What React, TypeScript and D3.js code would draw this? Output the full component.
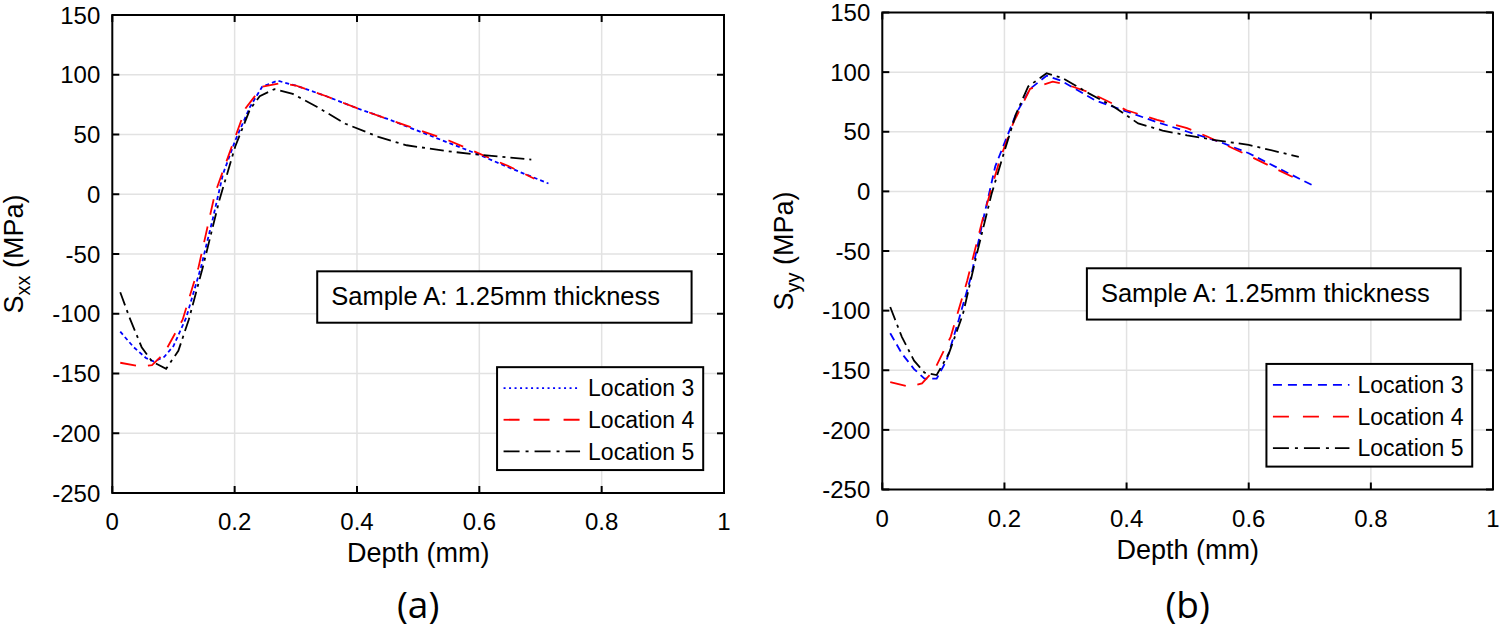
import { useEffect, useRef } from 'react'
import * as d3 from 'd3'

// Residual stress vs depth, Sample A (1.25 mm), three measurement locations.
// Values read off the published figure.

const xTicks = [0, 0.2, 0.4, 0.6, 0.8, 1]
const yTicks = [-250, -200, -150, -100, -50, 0, 50, 100, 150]
const legendLabels = ['Location 3', 'Location 4', 'Location 5']

// (a) S_xx
const depthA3 = [0.013, 0.035, 0.055, 0.068, 0.085, 0.1, 0.121, 0.145, 0.165, 0.181, 0.201, 0.225, 0.245, 0.27, 0.3, 0.35, 0.4, 0.45, 0.5, 0.55, 0.6, 0.65, 0.713]
const sxx3 = [-115, -128, -137, -140, -136, -127, -103, -61, -19, 17, 45, 73, 90, 95, 91, 82, 72, 63, 53, 43, 33, 22, 9]
const depthA4 = [0.013, 0.045, 0.065, 0.085, 0.115, 0.141, 0.168, 0.201, 0.218, 0.245, 0.275, 0.3, 0.35, 0.4, 0.45, 0.5, 0.55, 0.6, 0.65, 0.69]
const sxx4 = [-141, -144, -143, -133, -105, -61, 1, 48, 72, 90, 93, 91, 82, 72, 63, 54, 45, 34, 23, 13]
const depthA5 = [0.013, 0.028, 0.048, 0.065, 0.088, 0.108, 0.125, 0.148, 0.175, 0.201, 0.225, 0.241, 0.265, 0.295, 0.335, 0.381, 0.435, 0.481, 0.548, 0.601, 0.685]
const sxx5 = [-82, -103, -128, -140, -146, -131, -105, -61, -5, 40, 71, 82, 88, 84, 73, 59, 48, 41, 36, 33, 29]

// (b) S_yy
const depthB3 = [0.013, 0.032, 0.052, 0.069, 0.089, 0.105, 0.125, 0.145, 0.165, 0.185, 0.202, 0.219, 0.242, 0.269, 0.292, 0.35, 0.4, 0.45, 0.5, 0.55, 0.6, 0.65, 0.709]
const syy3 = [-119, -136, -149, -157, -157, -142, -108, -72, -24, 21, 43, 65, 86, 97, 93, 76, 67, 58, 50, 42, 32, 19, 4]
const depthB4 = [0.013, 0.045, 0.065, 0.085, 0.112, 0.139, 0.165, 0.192, 0.215, 0.242, 0.279, 0.299, 0.339, 0.4, 0.45, 0.499, 0.532, 0.6, 0.672]
const syy4 = [-160, -164, -161, -150, -122, -75, -22, 26, 58, 86, 92, 90, 83, 68, 60, 53, 46, 30, 12]
const depthB5 = [0.013, 0.032, 0.052, 0.069, 0.089, 0.109, 0.132, 0.155, 0.179, 0.199, 0.219, 0.239, 0.269, 0.295, 0.339, 0.379, 0.419, 0.459, 0.499, 0.545, 0.6, 0.682]
const syy5 = [-97, -122, -142, -152, -154, -136, -103, -52, -2, 32, 65, 88, 99, 95, 82, 71, 57, 51, 47, 43, 39, 29]

const FONT = '"Liberation Sans", Arial, Helvetica, sans-serif'

const panels = [
  {
    tag: '(a)',
    sub: 'xx',
    box: { left: 112.3, right: 724, top: 15, bottom: 493 },
    series: [
      { x: depthA3, y: sxx3, color: '#0000ff', dash: '4,3', legendDash: '2,3.5' },
      { x: depthA4, y: sxx4, color: '#ff0000', dash: '16,12', legendDash: '16,14' },
      { x: depthA5, y: sxx5, color: '#000000', dash: '14,5,3,5', legendDash: '16,6,3,6' },
    ],
  },
  {
    tag: '(b)',
    sub: 'yy',
    box: { left: 882.3, right: 1493, top: 12.5, bottom: 489.5 },
    series: [
      { x: depthB3, y: syy3, color: '#0000ff', dash: '8,5', legendDash: '9,6' },
      { x: depthB4, y: syy4, color: '#ff0000', dash: '16,12', legendDash: '16,14' },
      { x: depthB5, y: syy5, color: '#000000', dash: '14,5,3,5', legendDash: '16,6,3,6' },
    ],
  },
]

const App = () => {
  const ref = useRef<SVGSVGElement>(null)

  useEffect(() => {
    if (!ref.current) return
    const svg = d3.select(ref.current)
    svg.selectAll('*').remove()

    panels.forEach((p) => {
      const { left, right, top, bottom } = p.box
      const x = d3.scaleLinear().domain([0, 1]).range([left, right])
      const y = d3.scaleLinear().domain([-250, 150]).range([bottom, top])
      const g = svg.append('g')

      // grid
      g.selectAll('.gx')
        .data(xTicks.slice(1, -1))
        .enter()
        .append('line')
        .attr('x1', (d) => x(d))
        .attr('x2', (d) => x(d))
        .attr('y1', top)
        .attr('y2', bottom)
        .attr('stroke', '#e2e2e2')
        .attr('stroke-width', 1.5)
      g.selectAll('.gy')
        .data(yTicks.slice(1, -1))
        .enter()
        .append('line')
        .attr('x1', left)
        .attr('x2', right)
        .attr('y1', (d) => y(d))
        .attr('y2', (d) => y(d))
        .attr('stroke', '#e2e2e2')
        .attr('stroke-width', 1.5)

      // curves
      const line = d3
        .line<[number, number]>()
        .x((d) => x(d[0]))
        .y((d) => y(d[1]))
      p.series.forEach((s) => {
        const pts = s.x.map((v, i) => [v, s.y[i]] as [number, number])
        g.append('path')
          .attr('d', line(pts)!)
          .attr('fill', 'none')
          .attr('stroke', s.color)
          .attr('stroke-width', 1.8)
          .attr('stroke-dasharray', s.dash)
      })

      // inward ticks on all four sides
      const tl = 7
      xTicks.forEach((t) => {
        g.append('line').attr('x1', x(t)).attr('x2', x(t)).attr('y1', bottom).attr('y2', bottom - tl)
          .attr('stroke', '#000').attr('stroke-width', 2)
        g.append('line').attr('x1', x(t)).attr('x2', x(t)).attr('y1', top).attr('y2', top + tl)
          .attr('stroke', '#000').attr('stroke-width', 2)
      })
      yTicks.forEach((t) => {
        g.append('line').attr('x1', left).attr('x2', left + tl).attr('y1', y(t)).attr('y2', y(t))
          .attr('stroke', '#000').attr('stroke-width', 2)
        g.append('line').attr('x1', right).attr('x2', right - tl).attr('y1', y(t)).attr('y2', y(t))
          .attr('stroke', '#000').attr('stroke-width', 2)
      })

      // frame
      g.append('rect')
        .attr('x', left)
        .attr('y', top)
        .attr('width', right - left)
        .attr('height', bottom - top)
        .attr('fill', 'none')
        .attr('stroke', '#000')
        .attr('stroke-width', 2)

      // tick labels
      g.selectAll('.xl')
        .data(xTicks)
        .enter()
        .append('text')
        .attr('x', (d) => x(d))
        .attr('y', bottom + 37)
        .attr('text-anchor', 'middle')
        .style('font-family', FONT)
        .style('font-size', '24px')
        .text((d) => String(d))
      g.selectAll('.yl')
        .data(yTicks)
        .enter()
        .append('text')
        .attr('x', left - 12)
        .attr('y', (d) => y(d))
        .attr('dy', '0.36em')
        .attr('text-anchor', 'end')
        .style('font-family', FONT)
        .style('font-size', '24px')
        .text((d) => String(d))

      // axis labels
      g.append('text')
        .attr('x', (left + right) / 2)
        .attr('y', bottom + 69)
        .attr('text-anchor', 'middle')
        .style('font-family', FONT)
        .style('font-size', '27px')
        .text('Depth (mm)')

      const yl = g
        .append('text')
        .attr('transform', `translate(${left - 89.5},${(top + bottom) / 2}) rotate(-90)`)
        .attr('text-anchor', 'middle')
        .style('font-family', FONT)
        .style('font-size', '27px')
      yl.append('tspan').text('S')
      yl.append('tspan').attr('dy', 7).style('font-size', '20px').text(p.sub)
      yl.append('tspan').attr('dy', -7).text('  (MPa)')

      // annotation box
      const bx0 = x(0.335)
      const bx1 = x(0.947)
      const by0 = y(-64.5)
      const by1 = y(-107.5)
      g.append('rect')
        .attr('x', bx0)
        .attr('y', by0)
        .attr('width', bx1 - bx0)
        .attr('height', by1 - by0)
        .attr('fill', '#fff')
        .attr('stroke', '#000')
        .attr('stroke-width', 2)
      g.append('text')
        .attr('x', bx0 + 14)
        .attr('y', by0 + 33.5)
        .style('font-family', FONT)
        .style('font-size', '25.5px')
        .text('Sample A: 1.25mm thickness')

      // legend
      const lx0 = x(0.629)
      const lx1 = x(0.966)
      const ly0 = y(-144.7)
      const ly1 = y(-230.8)
      g.append('rect')
        .attr('x', lx0)
        .attr('y', ly0)
        .attr('width', lx1 - lx0)
        .attr('height', ly1 - ly0)
        .attr('fill', '#fff')
        .attr('stroke', '#000')
        .attr('stroke-width', 2)
      p.series.forEach((s, i) => {
        const cy = ly0 + 21 + i * 31.6
        g.append('line')
          .attr('x1', lx0 + 6.5)
          .attr('x2', lx0 + 83)
          .attr('y1', cy)
          .attr('y2', cy)
          .attr('stroke', s.color)
          .attr('stroke-width', 1.8)
          .attr('stroke-dasharray', s.legendDash)
        g.append('text')
          .attr('x', lx0 + 91)
          .attr('y', cy)
          .attr('dy', '0.36em')
          .style('font-family', FONT)
          .style('font-size', '23px')
          .text(legendLabels[i])
      })

      // panel tag
      g.append('text')
        .attr('x', (left + right) / 2)
        .attr('y', 618)
        .attr('text-anchor', 'middle')
        .style('font-family', '"Open Sans", "Noto Sans", sans-serif')
        .style('font-size', '37px')
        .text(p.tag)
    })
  }, [])

  return (
    <div style={{ position: 'absolute', left: 0, top: 0 }}>
      <svg ref={ref} width={1500} height={633} style={{ display: 'block', background: '#fff' }} />
    </div>
  )
}

export default App
